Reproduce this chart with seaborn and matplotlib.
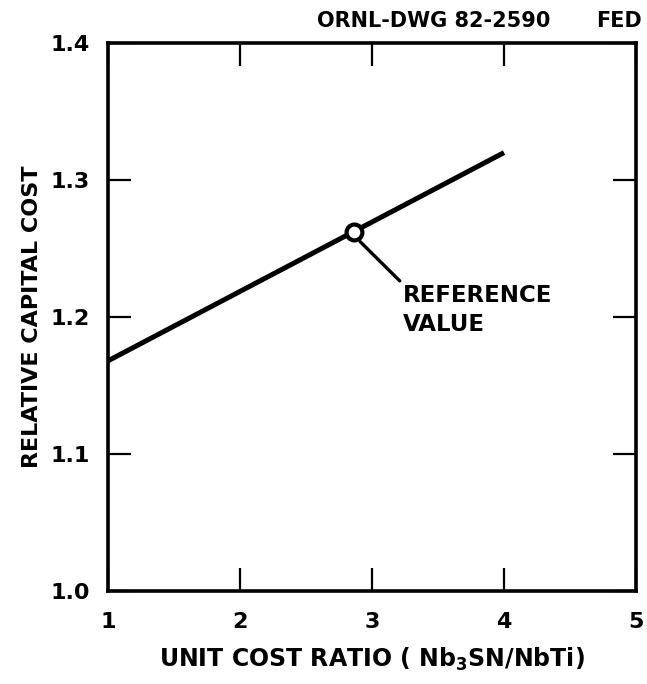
import matplotlib
matplotlib.use("Agg")
import matplotlib.pyplot as plt
import seaborn as sns
import pandas as pd

# Relative capital cost versus Nb3Sn/NbTi unit cost ratio
cost_ratio = [1.0, 4.0]
relative_cost = [1.168, 1.320]
reference_ratio = [2.86]
reference_cost = [1.262]

x_ticks = [1, 2, 3, 4, 5]
x_tick_labels = ["1", "2", "3", "4", "5"]
y_ticks = [1.0, 1.1, 1.2, 1.3, 1.4]
y_tick_labels = ["1.0", "1.1", "1.2", "1.3", "1.4"]

sns.set_theme(style="ticks")
plt.rcParams["font.family"] = ["DejaVu Sans"]
plt.rcParams["font.weight"] = "bold"
plt.rcParams["text.color"] = "black"
plt.rcParams["axes.labelcolor"] = "black"
plt.rcParams["xtick.color"] = "black"
plt.rcParams["ytick.color"] = "black"

fig = plt.figure(figsize=(6.47, 6.84), dpi=100)
ax = fig.add_axes([108 / 647, 1 - 591 / 684, (636 - 108) / 647, (591 - 43) / 684])

line_df = pd.DataFrame({"ratio": cost_ratio, "cost": relative_cost})
sns.lineplot(data=line_df, x="ratio", y="cost", ax=ax, color="black",
             linewidth=3.6, solid_capstyle="butt")

ref_df = pd.DataFrame({"ratio": reference_ratio, "cost": reference_cost})
sns.scatterplot(data=ref_df, x="ratio", y="cost", ax=ax, s=130, marker="o",
                facecolor="white", edgecolor="black", linewidth=3, zorder=5)

ax.annotate("REFERENCE\nVALUE",
            xy=(reference_ratio[0] + 0.05, reference_cost[0] - 0.007),
            xytext=(3.235, 1.224), textcoords="data",
            fontsize=16.5, fontweight="bold", ha="left", va="top",
            linespacing=1.3, color="black",
            arrowprops=dict(arrowstyle="-", color="black", lw=2.4,
                            shrinkA=0, shrinkB=0,
                            relpos=(0, 1)))

ax.set_xlim(1, 5)
ax.set_ylim(1.0, 1.4)
ax.set_xticks(x_ticks)
ax.set_xticklabels(x_tick_labels)
ax.set_yticks(y_ticks)
ax.set_yticklabels(y_tick_labels)

ax.tick_params(axis="both", which="both", direction="in", length=16.5, width=1.6,
               top=True, right=True, labelsize=16, color="black",
               labelcolor="black")
ax.tick_params(axis="x", pad=15)
ax.tick_params(axis="y", pad=13)
for lab in ax.get_xticklabels() + ax.get_yticklabels():
    lab.set_fontweight("bold")

for spine in ax.spines.values():
    spine.set_linewidth(2.6)
    spine.set_color("black")

ax.set_xlabel("UNIT COST RATIO ( Nb$_\\mathbf{3}$SN/NbTi)", fontsize=17,
              fontweight="bold", labelpad=10, color="black")
ax.set_ylabel("RELATIVE CAPITAL COST", fontsize=16, fontweight="bold",
              labelpad=6, color="black")

fig.text(550 / 647, 1 - 27 / 684, "ORNL-DWG 82-2590", ha="right",
         va="baseline", fontsize=15, fontweight="bold", color="black")
fig.text(642 / 647, 1 - 27 / 684, "FED", ha="right",
         va="baseline", fontsize=15, fontweight="bold", color="black")

fig.savefig("out.png", dpi=100, facecolor="white")
